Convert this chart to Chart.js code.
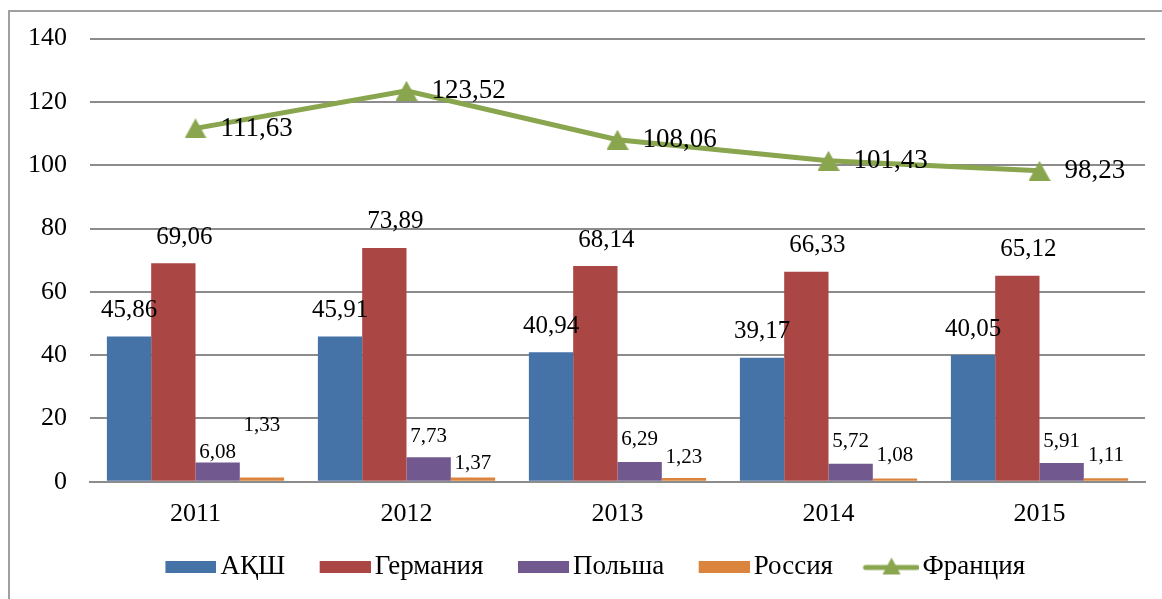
<!DOCTYPE html>
<html>
<head>
<meta charset="utf-8">
<script src="https://cdn.jsdelivr.net/npm/chart.js@4.4.1/dist/chart.umd.min.js"></script>
<style>
    html, body { margin: 0; padding: 0; background: #ffffff; }
    #wrap { position: relative; width: 1162px; height: 599px; }
    #frame { position: absolute; left: 8px; top: 10px; width: 1170px; height: 610px; border: 2px solid #a0a0a0; box-sizing: border-box; pointer-events: none; }
</style>
</head>
<body>
<div id="wrap">
    <canvas id="chart" width="1162" height="599"></canvas>
    <div id="frame"></div>
</div>
<script>
// Data
const years = ['2011', '2012', '2013', '2014', '2015'];
const usa = [45.86, 45.91, 40.94, 39.17, 40.05];
const germany = [69.06, 73.89, 68.14, 66.33, 65.12];
const poland = [6.08, 7.73, 6.29, 5.72, 5.91];
const russia = [1.33, 1.37, 1.23, 1.08, 1.11];
const france = [111.63, 123.52, 108.06, 101.43, 98.23];
const yTicks = [0, 20, 40, 60, 80, 100, 120, 140];

const SERIF = '"Liberation Serif", "DejaVu Serif", serif';
const COLORS = ['#4572A7', '#AA4643', '#71588F', '#DB843D', '#89A54E'];

// Label placement per dataset (style only, pixel offsets from the mark)
const labelStyle = [
    { size: 25, dx: 0, dy: -26, align: 'center' },
    { size: 25, dx: 11, dy: -26, align: 'center' },
    { size: 21, dx: 0, dy: [-10, -21, -22, -22, -22], align: 'center' },
    { size: 21, dx: 0, dy: [-52, -14, -20, -23, -23], align: 'center' },
    { size: 27, dx: 25, dy: 0, align: 'left' }
];

function fmt(v) {
    return v.toFixed(2).replace('.', ',');
}

// triangle marker whose box is centred on the point (like Excel)
function triangleMarker(color) {
    const c = document.createElement('canvas');
    c.width = 22; c.height = 20;
    const g = c.getContext('2d');
    g.fillStyle = color;
    g.beginPath(); g.moveTo(11, 0); g.lineTo(22, 20); g.lineTo(0, 20); g.closePath(); g.fill();
    return c;
}

// legend symbols: transparent margin on the left, mark on the right
const LEG_W = 66;      // room reserved per symbol
const LEG_IMG = 85;    // canvas width of the symbol image

function swatch(color) {
    const c = document.createElement('canvas');
    c.width = LEG_IMG; c.height = 12;
    const g = c.getContext('2d');
    g.fillStyle = color;
    g.fillRect(LEG_IMG - 51, 0, 51, 12);
    return c;
}
function lineSwatch(color) {
    const c = document.createElement('canvas');
    c.width = LEG_IMG; c.height = 20;
    const g = c.getContext('2d');
    const x0 = LEG_IMG - 55;
    g.strokeStyle = color;
    g.lineWidth = 5;
    g.lineCap = 'round';
    g.beginPath(); g.moveTo(x0 + 2, 11); g.lineTo(LEG_IMG - 2, 11); g.stroke();
    g.fillStyle = color;
    const cx = x0 + 28;
    g.beginPath(); g.moveTo(cx, 1); g.lineTo(cx + 9, 18); g.lineTo(cx - 9, 18); g.closePath(); g.fill();
    return c;
}

const valueLabels = {
    id: 'valueLabels',
    afterLayout(chart) {
        // nudge the legend row a little to the right, as in the reference
        if (chart.legend) {
            chart.legend.left += 8;
            chart.legend.right += 8;
        }
    },
    afterDatasetsDraw(chart) {
        const ctx = chart.ctx;
        ctx.save();
        ctx.fillStyle = '#000000';
        ctx.textBaseline = 'middle';
        chart.data.datasets.forEach((ds, i) => {
            const st = labelStyle[i];
            const meta = chart.getDatasetMeta(i);
            ctx.font = st.size + 'px ' + SERIF;
            ctx.textAlign = st.align;
            meta.data.forEach((el, j) => {
                const dy = Array.isArray(st.dy) ? st.dy[j] : st.dy;
                ctx.fillText(fmt(ds.data[j]), el.x + st.dx, el.y + dy);
            });
        });
        ctx.restore();
    }
};

const barCommon = {
    type: 'bar',
    categoryPercentage: 0.84,
    barPercentage: 1.0,
    borderWidth: 0,
    order: 2
};

const config = {
    data: {
        labels: years,
        datasets: [
            Object.assign({}, barCommon, { label: 'АҚШ', data: usa, backgroundColor: COLORS[0] }),
            Object.assign({}, barCommon, { label: 'Германия', data: germany, backgroundColor: COLORS[1] }),
            Object.assign({}, barCommon, { label: 'Польша', data: poland, backgroundColor: COLORS[2] }),
            Object.assign({}, barCommon, { label: 'Россия', data: russia, backgroundColor: COLORS[3] }),
            {
                type: 'line',
                label: 'Франция',
                data: france,
                borderColor: COLORS[4],
                backgroundColor: COLORS[4],
                borderWidth: 5,
                tension: 0,
                pointStyle: triangleMarker(COLORS[4]),
                pointRadius: 12,
                order: 1
            }
        ]
    },
    options: {
        responsive: false,
        animation: false,
        layout: {
            padding: { top: 32, right: 17, left: 5, bottom: 9 }
        },
        plugins: {
            tooltip: { enabled: false },
            legend: {
                position: 'bottom',
                labels: {
                    usePointStyle: true,
                    pointStyleWidth: LEG_W,
                    padding: 10,
                    color: '#000000',
                    font: { family: SERIF, size: 27 },
                    generateLabels(chart) {
                        return chart.data.datasets.map((ds, i) => ({
                            text: ds.label,
                            pointStyle: i === 4 ? lineSwatch(COLORS[4]) : swatch(COLORS[i]),
                            fillStyle: COLORS[i],
                            strokeStyle: COLORS[i],
                            lineWidth: 0,
                            hidden: false,
                            datasetIndex: i,
                            fontColor: '#000000'
                        }));
                    }
                }
            }
        },
        scales: {
            x: {
                grid: { display: false, drawTicks: false },
                border: { display: true, color: '#8c8c8c', width: 2 },
                ticks: {
                    color: '#000000',
                    padding: 17,
                    font: { family: SERIF, size: 26 }
                },
                afterFit(scale) {
                    scale.height -= 4;
                }
            },
            y: {
                min: 0,
                max: 140,
                afterBuildTicks(scale) {
                    scale.ticks = yTicks.map(v => ({ value: v }));
                },
                grid: { color: '#8c8c8c', lineWidth: 2, drawTicks: false },
                border: { display: false },
                ticks: {
                    color: '#000000',
                    padding: 23,
                    font: { family: SERIF, size: 26 }
                }
            }
        }
    },
    plugins: [valueLabels]
};

new Chart(document.getElementById('chart'), config);
</script>
</body>
</html>
